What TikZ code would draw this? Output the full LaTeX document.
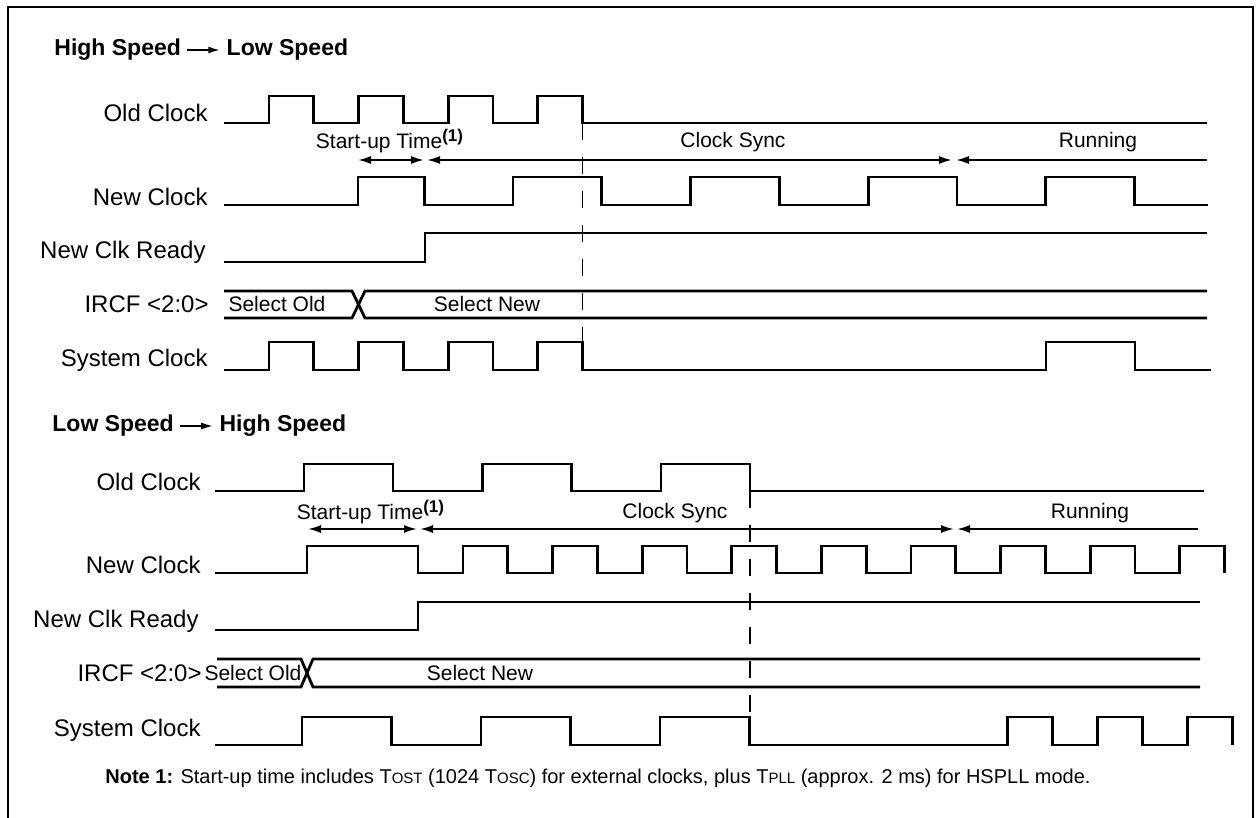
\documentclass[tikz,border=0pt]{standalone}
\usepackage{fontspec}
\setmainfont{Liberation Sans}
\usetikzlibrary{arrows.meta,positioning}

\newcommand{\lowcap}[1]{{\fontsize{7.5pt}{8pt}\selectfont #1}}
\newcommand{\notemark}{\textsuperscript{\fontsize{8.5pt}{9pt}\selectfont\bfseries (1)}}

\begin{document}
\begin{tikzpicture}[x=0.5pt,y=-0.5pt,>={Latex[length=6.5pt,width=4pt]},
    signal/.style={line width=1.4pt},
    sig label/.style={anchor=east,inner sep=0pt,font=\fontsize{12pt}{14pt}\selectfont},
    phase label/.style={inner sep=0pt,font=\fontsize{10.5pt}{12pt}\selectfont},
    phase arrow/.style={line width=0.9pt},
    title/.style={inner sep=3pt,font=\fontsize{11.5pt}{14pt}\selectfont\bfseries},
    title arrow/.style={-{Latex[length=6pt,width=3.5pt]},line width=1pt},
    sync line/.style={line width=0.6pt,dash pattern=on 8.5pt off 8.5pt}]

  \useasboundingbox (0,0) rectangle (1259,818);
  %Frame%
  \draw[line width=1.2pt] (8,818) -- (8,7) -- (1253,7) -- (1253,818);

  %High Speed -> Low Speed%
  \node[title,anchor=west] (hs1) at (48,50) {High Speed};
  \node[title,right=16.5pt of hs1] (ls1) {Low Speed};
  \draw[title arrow] (hs1) -- (ls1);

  \node[sig label] (old1) at (208,113) {Old Clock};
  \node[sig label] (new1) at (208,197) {New Clock};
  \node[sig label] (rdy1) at (206,252) {New Clk Ready};
  \node[sig label] (ircf1) at (209,304) {IRCF <2:0>};
  \node[sig label] (sys1) at (208,360) {System Clock};

  \draw[signal] (224,123) \foreach \r in {269,358.6,448.2,537.8}
    {-- (\r,123) -- (\r,96) -- (\r+44.8,96) -- (\r+44.8,123)} -- (1207,123);
  \draw[signal] (224,205) -- (358,205) -- (358,177) -- (424.5,177) -- (424.5,205)
    \foreach \r in {513,690.6,868.2,1045.8}
    {-- (\r,205) -- (\r,177) -- (\r+88.8,177) -- (\r+88.8,205)} -- (1208,205);
  \draw[signal] (224,262) -- (425,262) -- (425,233) -- (1207,233);
  \draw[signal] (224,291) -- (352,291) -- (365,318) -- (1207,318);
  \draw[signal] (224,318) -- (352,318) -- (365,291) -- (1207,291);
  \draw[signal] (224,370) \foreach \r in {269,358.6,448.2,537.8}
    {-- (\r,370) -- (\r,342) -- (\r+44.8,342) -- (\r+44.8,370)}
    -- (1046,370) -- (1046,342) -- (1135,342) -- (1135,370) -- (1211,370);
  \draw[sync line] (582.6,123) -- (582.6,342);

  \node[phase label] (su1) at (390,141) {Start-up Time\notemark};
  \node[phase label] (cs1) at (733,142) {Clock Sync};
  \node[phase label] (run1) at (1098,142) {Running};
  \draw[phase arrow,<->] (358,160) -- (424,160);
  \draw[phase arrow,<->] (427,160) -- (952,160);
  \draw[phase arrow,<-] (956,160) -- (1207,160);
  \node[phase label] (so1) at (277,304) {Select Old};
  \node[phase label] (sn1) at (487,304) {Select New};

  %Low Speed -> High Speed%
  \node[title,anchor=west] (ls2) at (46,426) {Low Speed};
  \node[title,right=16.5pt of ls2] (hs2) {High Speed};
  \draw[title arrow] (ls2) -- (hs2);

  \node[sig label] (old2) at (201,482) {Old Clock};
  \node[sig label] (new2) at (201,565) {New Clock};
  \node[sig label] (rdy2) at (199,621) {New Clk Ready};
  \node[sig label] (ircf2) at (202,673) {IRCF <2:0>};
  \node[sig label] (sys2) at (201,730) {System Clock};

  \draw[signal] (215,491) \foreach \r in {304,482.5,661}
    {-- (\r,491) -- (\r,464) -- (\r+89,464) -- (\r+89,491)} -- (1204,491);
  \draw[signal] (215,573) -- (307,573) -- (307,546) -- (418,546) -- (418,573)
    \foreach \r in {463,552.6,642.2,731.8,821.4,911,1000.6,1090.2,1179.8}
    {-- (\r,573) -- (\r,546) -- (\r+44.8,546) -- (\r+44.8,573)};
  \draw[signal] (215,630) -- (418,630) -- (418,602) -- (1200,602);
  \draw[signal] (217,659) -- (301,659) -- (313,687) -- (1200,687);
  \draw[signal] (217,687) -- (301,687) -- (313,659) -- (1200,659);
  \draw[signal] (215,745) \foreach \r in {302,481,660}
    {-- (\r,745) -- (\r,717) -- (\r+89.3,717) -- (\r+89.3,745)}
    \foreach \r in {1007.5,1097.5,1187.5}
    {-- (\r,745) -- (\r,717) -- (\r+44.8,717) -- (\r+44.8,745)};
  \draw[sync line] (750,491) -- (750,717);

  \node[phase label] (su2) at (371,512) {Start-up Time\notemark};
  \node[phase label] (cs2) at (675,513) {Clock Sync};
  \node[phase label] (run2) at (1090,513) {Running};
  \draw[phase arrow,<->] (308,529) -- (417,529);
  \draw[phase arrow,<->] (420,529) -- (954,529);
  \draw[phase arrow,<-] (957,529) -- (1198,529);
  \node[phase label] (so2) at (253,673) {Select Old};
  \node[phase label] (sn2) at (480,673) {Select New};

  %Note%
  \node[anchor=west,inner sep=0pt,font=\fontsize{10pt}{12pt}\selectfont] (note) at (105,778)
    {\textbf{Note 1:} Start-up time includes T\lowcap{OST} (1024 T\lowcap{OSC}) for external clocks, plus T\lowcap{PLL} (approx. 2 ms) for HSPLL mode.};
\end{tikzpicture}
\end{document}
